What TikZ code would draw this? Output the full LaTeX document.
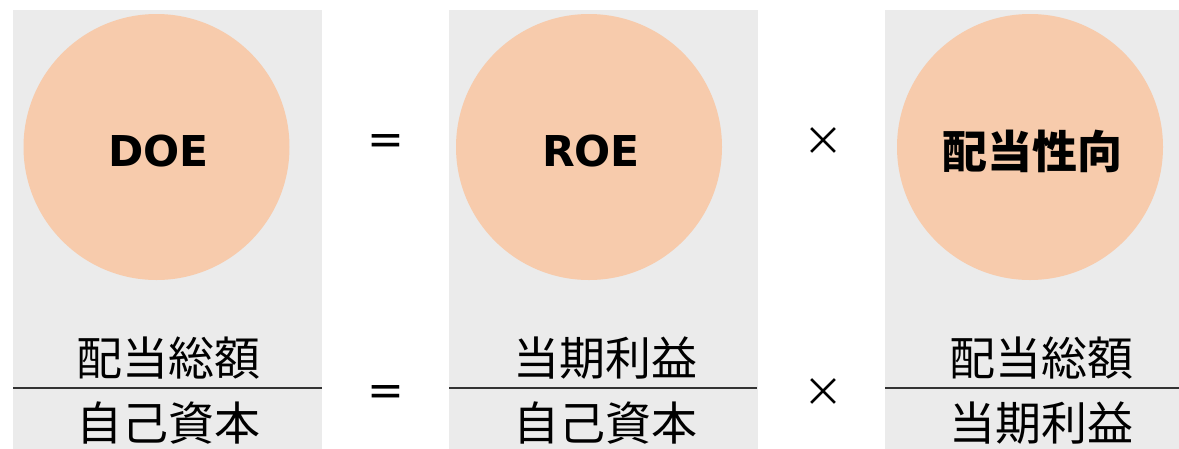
\documentclass[tikz,border=0pt]{standalone}
\usepackage{fontspec}
\newfontfamily\jp{Noto Sans CJK JP}
\newfontfamily\lat{DejaVu Sans}
\definecolor{panelgray}{HTML}{EBEBEB}
\definecolor{peach}{HTML}{F7CBAC}
\definecolor{rulecol}{HTML}{333333}
\begin{document}
\begin{tikzpicture}[x=1pt,y=-1pt,
  panel/.style={fill=panelgray,draw=none,minimum width=309pt,minimum height=440pt,anchor=north west,inner sep=0pt},
  disc/.style={circle,fill=peach,draw=none,minimum size=266pt,inner sep=0pt},
  eng/.style={anchor=base,inner sep=0pt,font=\lat\bfseries\fontsize{42.5}{42.5}\selectfont},
  jbold/.style={anchor=base,inner sep=0pt,font=\jp\bfseries\fontsize{45}{45}\selectfont},
  frac/.style={anchor=base,inner sep=0pt,font=\jp\fontsize{46}{46}\selectfont},
  eqop/.style={anchor=base,inner sep=0pt,font=\lat\fontsize{44}{44}\selectfont},
  op/.style={anchor=center,inner sep=0pt,font=\jp\fontsize{40}{40}\selectfont},
  fracline/.style={draw=rulecol,line width=2pt}]
\useasboundingbox (0,0) rectangle (1179,448);
\clip (0,0) rectangle (1179,448);
\fill[white] (0,0) rectangle (1179,448);
% panels
\node[panel] (p1) at (13,10) {};
\node[panel] (p2) at (449,10) {};
\node[panel] (p3) at (885,10) {};
% discs
\node[disc] (c1) at (156.5,147) {};
\node[disc] (c2) at (589,147) {};
\node[disc] (c3) at (1030,147) {};
% disc labels
\node[eng] (t1) at (158.5,166) {DOE};
\node[eng] (t2) at (591,166) {ROE};
\node[jbold] (t3) at (1032,168) {配当性向};
% operators
\node[eqop] (eq1) at (386,154.5) {=};
\node[op] (x1) at (823,142) {×};
\node[eqop] (eq2) at (386,405.5) {=};
\node[op] (x2) at (823,393) {×};
% fractions
\node[frac] (n1) at (168.5,375) {配当総額};
\node[frac] (d1) at (168.5,440) {自己資本};
\node[frac] (n2) at (605,375) {当期利益};
\node[frac] (d2) at (605,440) {自己資本};
\node[frac] (n3) at (1041.5,375) {配当総額};
\node[frac] (d3) at (1041.5,440) {当期利益};
% fraction lines
\coordinate (l1a) at (13,388); \coordinate (l1b) at (322,388);
\coordinate (l2a) at (449,388); \coordinate (l2b) at (757,388);
\coordinate (l3a) at (885,388); \coordinate (l3b) at (1179,388);
\draw[fracline] (l1a) -- (l1b);
\draw[fracline] (l2a) -- (l2b);
\draw[fracline] (l3a) -- (l3b);
\end{tikzpicture}
\end{document}
